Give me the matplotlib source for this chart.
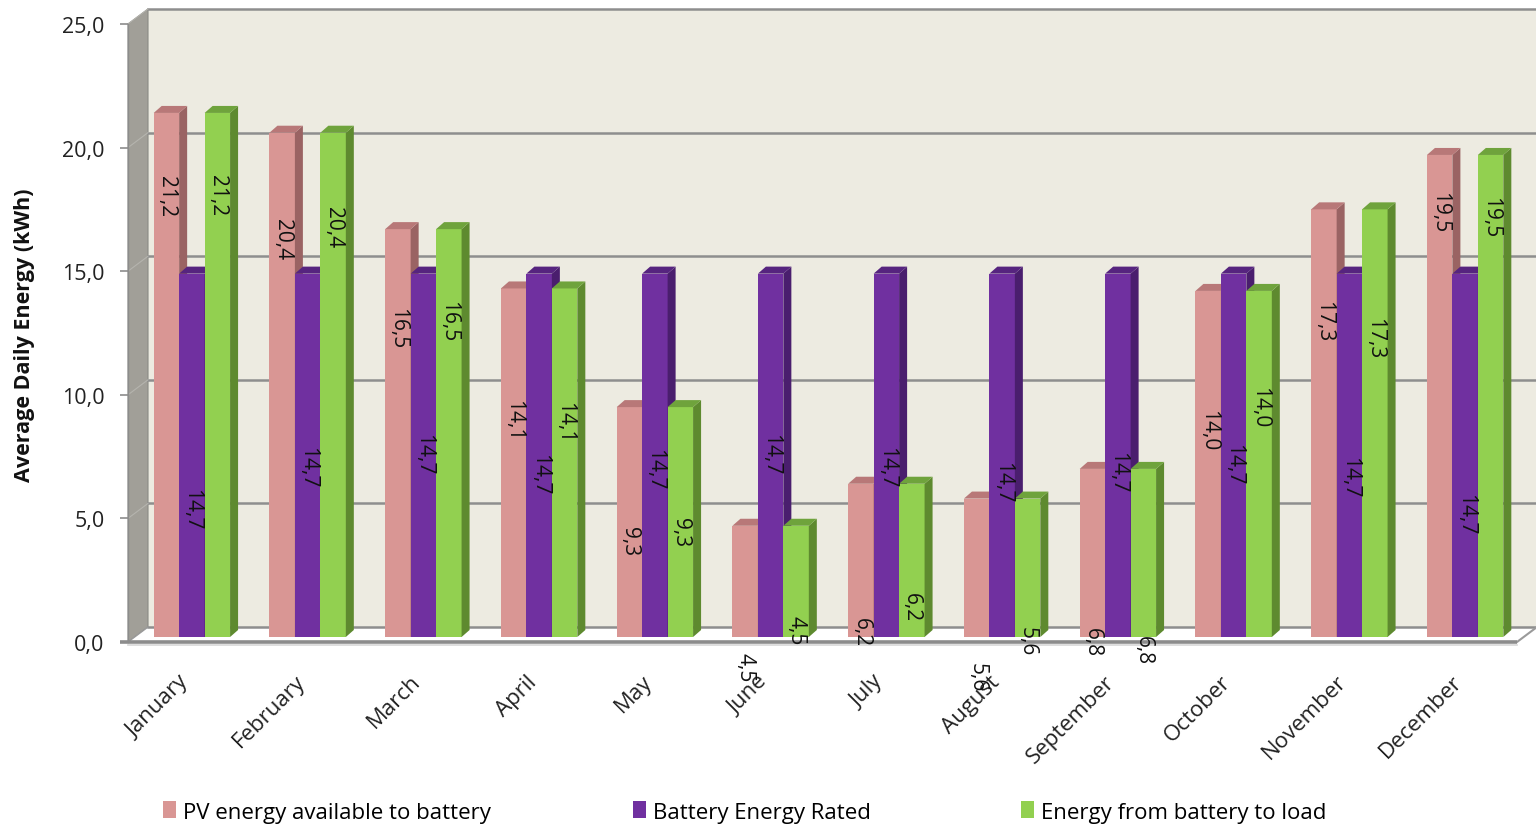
import matplotlib
matplotlib.use("Agg")
import matplotlib.pyplot as plt
from matplotlib.patches import Rectangle, Polygon, Patch
from matplotlib.lines import Line2D
from matplotlib.transforms import offset_copy

# ---------------- data ----------------
months = ["January", "February", "March", "April", "May", "June", "July",
          "August", "September", "October", "November", "December"]
pv_available = [21.2, 20.4, 16.5, 14.1, 9.3, 4.5, 6.2, 5.6, 6.8, 14.0, 17.3, 19.5]
battery_rated = [14.7, 14.7, 14.7, 14.7, 14.7, 14.7, 14.7, 14.7, 14.7, 14.7, 14.7, 14.7]
battery_to_load = [21.2, 20.4, 16.5, 14.1, 9.3, 4.5, 6.2, 5.6, 6.8, 14.0, 17.3, 19.5]
series_names = ["PV energy available to battery", "Battery Energy Rated",
                "Energy from battery to load"]
y_ticks = [0, 5, 10, 15, 20, 25]
y_label = "Average Daily Energy (kWh)"

# ---------------- layout / style ----------------
# data-label anchor heights (as placed by the original chart software)
label_y_pv = [17.85, 16.1, 12.5, 8.8, 3.9, -1.2, 0.2, -1.6, -0.2, 8.4, 12.8, 17.2]
label_y_rated = [5.2, 6.9, 7.4, 6.6, 6.8, 7.4, 6.9, 6.3, 6.7, 7.0, 6.5, 5.0]
label_y_load = [17.9, 16.6, 12.8, 8.7, 4.25, 0.3, 1.25, -0.15, -0.5, 9.3, 12.1, 17.0]

front_colors = ["#D99694", "#7030A0", "#92D050"]
side_colors = ["#9A6363", "#4A1E6E", "#5E8A2F"]
top_colors = ["#B87878", "#56247F", "#6FA33C"]
wall_color = "#EDEBE1"
side_wall_color = "#A19F98"
grid_color = "#8E8E8E"

plt.rcParams["font.family"] = ["Open Sans", "DejaVu Sans"]

W, H = 1536, 828
fig = plt.figure(figsize=(W / 100, H / 100), dpi=100)
ax = fig.add_axes([128 / W, (H - 643) / H, (1517 - 128) / W, (643 - 25) / H])
ax.set_xlim(-0.5, 11.5)
ax.set_ylim(0, 25)
ax.patch.set_visible(False)
for s in ["top", "right", "bottom", "left"]:
    ax.spines[s].set_visible(False)

# pixel -> data unit conversion
p = ax.transData.transform([(0, 0), (1, 1)])
ux = p[1, 0] - p[0, 0]
uy = p[1, 1] - p[0, 1]

def dpx(dx, dy):
    return dx / ux, dy / uy

x0, x1 = ax.get_xlim()
y0, y1 = ax.get_ylim()

# ---------------- 3D frame ----------------
wall_dx_px, wall_dy_px = 20, 15
wdx, wdy = dpx(wall_dx_px, wall_dy_px)
trans_wall = offset_copy(ax.transData, fig=fig, x=wall_dx_px, y=wall_dy_px, units="dots")

# back wall
ax.add_patch(Rectangle((x0, y0), (x1 - x0) + 2, y1 - y0, transform=trans_wall,
                       facecolor=wall_color, edgecolor="none", zorder=0, clip_on=False))
# left wall
ax.add_patch(Polygon([(x0, y0), (x0 + wdx, y0 + wdy), (x0 + wdx, y1 + wdy), (x0, y1)],
                     closed=True, facecolor=side_wall_color, edgecolor="#8A8A85",
                     linewidth=0.8, zorder=0.5, clip_on=False))
# floor
ax.add_patch(Polygon([(x0, y0), (x1, y0), (x1 + wdx, y0 + wdy), (x0 + wdx, y0 + wdy)],
                     closed=True, facecolor="#FFFFFF", edgecolor="none",
                     zorder=0.5, clip_on=False))
# back-wall gridlines
for v in y_ticks:
    ax.add_line(Line2D([x0, x1 + 2], [v, v], transform=trans_wall, color=grid_color,
                       linewidth=1.8, zorder=0.6, clip_on=False))
    if v > 0:
        ax.add_line(Line2D([x0, x0 + wdx], [v, v + wdy], color="#B5B4AE",
                           linewidth=0.8, zorder=0.6, clip_on=False))
# floor outline
ax.add_line(Line2D([x0, x0 + wdx], [y0, y0 + wdy], color="#9A9A9A", linewidth=1.0,
                   zorder=0.7, clip_on=False))
ax.add_line(Line2D([x1, x1 + wdx], [y0, y0 + wdy], color="#9A9A9A", linewidth=1.5,
                   zorder=0.7, clip_on=False))
ax.add_line(Line2D([x0 - 8 / ux, x1], [y0, y0], color="#8C8C8C", linewidth=2.6,
                   zorder=0.7, clip_on=False, solid_capstyle="butt"))
ax.add_line(Line2D([x0, x1], [y0 - 2.5 / uy, y0 - 2.5 / uy], color="#D8D8D8",
                   linewidth=1.2, zorder=0.7, clip_on=False))
ax.add_line(Line2D([x0, x0], [y0, y1], color="#8C8C8C", linewidth=1.0,
                   zorder=0.7, clip_on=False))

# ---------------- bars ----------------
trans_bar = offset_copy(ax.transData, fig=fig, x=6, y=5, units="dots")
bw = 0.22
bdx, bdy = dpx(8, 7)
series = [pv_available, battery_rated, battery_to_load]
label_ys = [label_y_pv, label_y_rated, label_y_load]

def fmt(v):
    return f"{v:.1f}".replace(".", ",")

for i in range(len(months)):
    for k, vals in enumerate(series):
        h = vals[i]
        xc = i + (k - 1) * bw
        xa, xb = xc - bw / 2, xc + bw / 2
        z = 2 + i * 0.01 + k * 0.001
        ax.bar([xc], [h], width=bw, color=front_colors[k], transform=trans_bar,
               zorder=z, clip_on=False, linewidth=0)
        ax.add_patch(Polygon([(xb, 0), (xb + bdx, bdy), (xb + bdx, h + bdy), (xb, h)],
                             closed=True, facecolor=side_colors[k], edgecolor="none",
                             transform=trans_bar, zorder=z, clip_on=False))
        ax.add_patch(Polygon([(xa, h), (xb, h), (xb + bdx, h + bdy), (xa + bdx, h + bdy)],
                             closed=True, facecolor=top_colors[k], edgecolor="none",
                             transform=trans_bar, zorder=z, clip_on=False))

for i in range(len(months)):
    for k, vals in enumerate(series):
        xc = i + (k - 1) * bw
        ax.text(xc, label_ys[k][i], fmt(vals[i]), transform=trans_bar, rotation=270,
                ha="center", va="center", fontsize=15, color="#111111",
                zorder=10, clip_on=False)

# ---------------- axes ticks ----------------
ax.set_yticks(y_ticks)
ax.set_yticklabels([fmt(v) for v in y_ticks], fontsize=15.5, color="#222222")
ax.tick_params(axis="y", length=6, width=1.2, color="#8C8C8C", pad=11, direction="out")
ax.set_xticks(range(len(months)))
ax.set_xticklabels(months, rotation=45, ha="right", va="center",
                   rotation_mode="anchor", fontsize=16, color="#222222")
ax.tick_params(axis="x", length=0, pad=26)

fig.text(25 / W, 1 - 335 / H, y_label, rotation=90, ha="center", va="center",
         fontsize=15.5, fontweight="bold", color="#111111")

# ---------------- legend ----------------
legend_x = [163 / W, 633 / W, 1021 / W]
for k in range(3):
    fig.legend(handles=[Patch(facecolor=front_colors[k], edgecolor="none")],
               labels=[series_names[k]], loc="center left",
               bbox_to_anchor=(legend_x[k], 1 - 813 / H), frameon=False,
               fontsize=16, handlelength=0.6, handleheight=0.8,
               handletextpad=0.3, borderpad=0, borderaxespad=0)

fig.savefig("out.png", dpi=100)
